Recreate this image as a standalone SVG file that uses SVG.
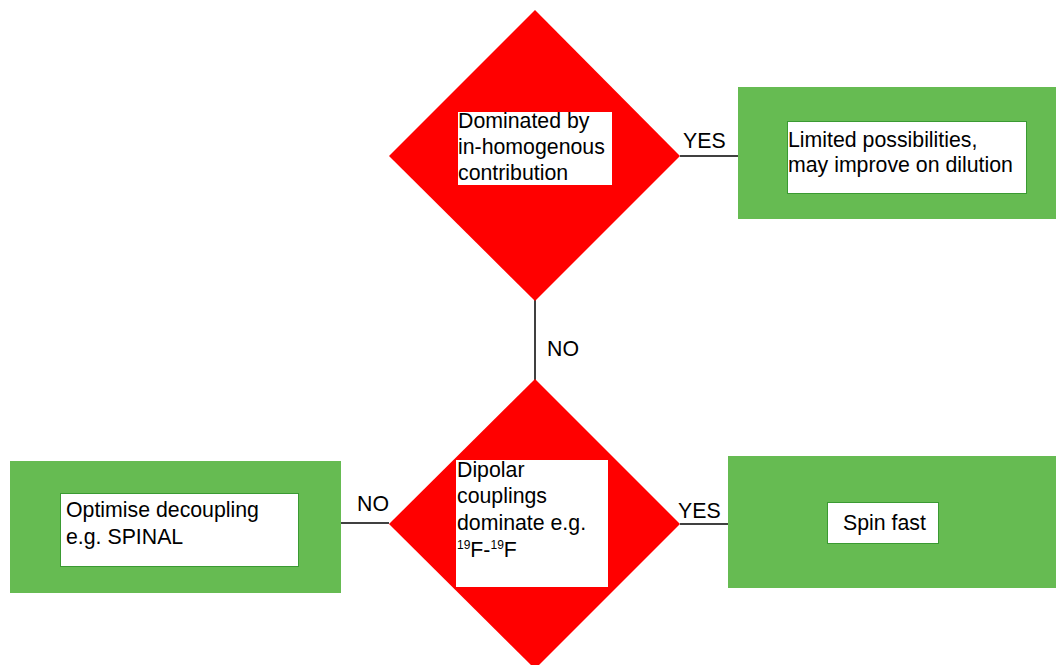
<svg xmlns="http://www.w3.org/2000/svg" width="1056" height="665" viewBox="0 0 1056 665">
<style>
text{font-family:"Liberation Sans",Arial,sans-serif;font-size:21.3px;fill:#000}
.dia{fill:#ff0000}
.outer{fill:#66bb52}
.inner{fill:#fff;stroke:#3a9a32;stroke-width:1}
.tb{fill:#fff}
.conn{stroke:#000;stroke-width:1.5;fill:none}
.sup{font-size:12px}
</style>
<rect width="1056" height="665" fill="#fff"/>
<g id="connectors">
<line class="conn" x1="680" y1="156" x2="738" y2="156"/>
<line class="conn" x1="535" y1="300" x2="535" y2="380"/>
<line class="conn" x1="341" y1="523" x2="389" y2="523"/>
<line class="conn" x1="680" y1="524" x2="728" y2="524"/>
<text x="683" y="148">YES</text>
<text x="547" y="356">NO</text>
<text x="357" y="511">NO</text>
<text x="678" y="518">YES</text>
</g>
<g id="decision1">
<polygon class="dia" points="535,10 680,156 535,301 389,156"/>
<rect class="tb" x="458" y="112" width="154" height="73"/>
<text x="458" y="128">Dominated by</text>
<text x="458" y="154">in-homogenous</text>
<text x="458" y="180">contribution</text>
</g>
<g id="decision2">
<polygon class="dia" points="535,379 680,524 535,669 389,524"/>
<rect class="tb" x="456" y="460" width="152" height="127"/>
<text x="457" y="477">Dipolar</text>
<text x="457" y="503">couplings</text>
<text x="457" y="530">dominate e.g.</text>
<text x="457" y="557"><tspan class="sup" dy="-8">19</tspan><tspan dy="8">F-</tspan><tspan class="sup" dy="-8">19</tspan><tspan dy="8">F</tspan></text>
</g>
<g id="limited">
<rect class="outer" x="738" y="87" width="318" height="132"/>
<rect class="inner" x="787.5" y="121.5" width="239" height="72"/>
<text x="788" y="147">Limited possibilities,</text>
<text x="788" y="172">may improve on dilution</text>
</g>
<g id="optimise">
<rect class="outer" x="10" y="461" width="331" height="132"/>
<rect class="inner" x="60.5" y="493.5" width="238" height="73"/>
<text x="66" y="517">Optimise decoupling</text>
<text x="66" y="544">e.g. SPINAL</text>
</g>
<g id="spinfast">
<rect class="outer" x="728" y="456" width="328" height="132"/>
<rect class="inner" x="827.5" y="502.5" width="111" height="41"/>
<text x="843" y="530">Spin fast</text>
</g>
</svg>
